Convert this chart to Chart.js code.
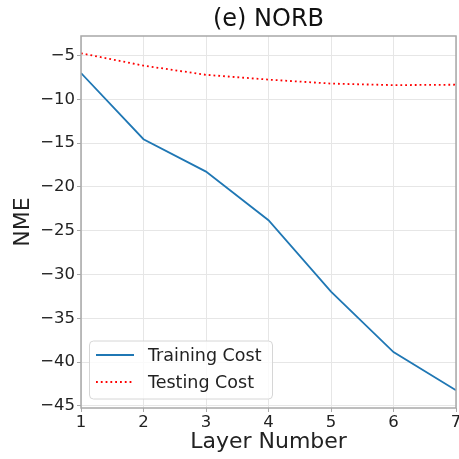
<html>
<head>
<script src="https://cdn.jsdelivr.net/npm/chart.js@4.4.0/dist/chart.umd.min.js"></script>
<style>
body { margin: 0; background: #ffffff; }
#wrap { width: 459px; height: 459px; }
</style>
</head>
<body>
<div id="wrap"><canvas id="lineChart" width="459" height="459"></canvas></div>
<script>
// data
var layers = [1, 2, 3, 4, 5, 6, 7];
var trainingCost = [-7.0, -14.55, -18.25, -23.8, -31.95, -38.85, -43.2];
var testingCost = [-4.74, -6.15, -7.2, -7.75, -8.2, -8.38, -8.33];
var yTicks = [-45, -40, -35, -30, -25, -20, -15, -10, -5];
var xTicks = [1, 2, 3, 4, 5, 6, 7];

var FONT = "'DejaVu Sans', sans-serif";

function pts(ys) {
  var out = [];
  for (var i = 0; i < layers.length; i++) out.push({x: layers[i], y: ys[i]});
  return out;
}
function minus(v) { return String(v).replace('-', '\u2212'); }

// legend box drawn inside the plot, lower left
var boxLegend = {
  id: 'boxLegend',
  afterDatasetsDraw: function(chart) {
    var ctx = chart.ctx;
    var x0 = 89.5, y0 = 341, w = 183, h = 58;
    ctx.save();
    ctx.beginPath();
    ctx.roundRect(x0, y0, w, h, 4);
    ctx.fillStyle = 'rgba(255,255,255,0.8)';
    ctx.fill();
    ctx.strokeStyle = '#d6d6d6';
    ctx.lineWidth = 1;
    ctx.stroke();
    var rows = [355, 382];
    chart.data.datasets.forEach(function(ds, i) {
      ctx.beginPath();
      ctx.setLineDash(ds.borderDash || []);
      ctx.strokeStyle = ds.borderColor;
      ctx.lineWidth = ds.borderWidth;
      ctx.moveTo(96, rows[i]);
      ctx.lineTo(134, rows[i]);
      ctx.stroke();
      ctx.setLineDash([]);
      ctx.fillStyle = '#222222';
      ctx.font = '17.5px ' + FONT;
      ctx.textBaseline = 'middle';
      ctx.fillText(ds.label, 148, rows[i] + 1);
    });
    ctx.restore();
  }
};

// frame on all four sides
var frame = {
  id: 'frame',
  afterDraw: function(chart) {
    var a = chart.chartArea, ctx = chart.ctx;
    ctx.save();
    ctx.strokeStyle = '#a8a8a8';
    ctx.lineWidth = 1.5;
    ctx.strokeRect(a.left, a.top, a.right - a.left, a.bottom - a.top);
    ctx.restore();
  }
};

new Chart(document.getElementById('lineChart'), {
  type: 'line',
  data: {
    datasets: [{
      label: 'Training Cost',
      data: pts(trainingCost),
      borderColor: '#1f77b4',
      borderWidth: 1.8,
      pointRadius: 0,
      tension: 0,
      fill: false
    }, {
      label: 'Testing Cost',
      data: pts(testingCost),
      borderColor: '#ff0000',
      borderWidth: 1.8,
      borderDash: [1.8, 3],
      pointRadius: 0,
      tension: 0,
      fill: false
    }]
  },
  options: {
    responsive: false,
    animation: false,
    layout: {padding: {left: 0, right: 3, top: 0, bottom: 0}},
    plugins: {
      legend: {display: false},
      tooltip: {enabled: false},
      title: {
        display: true,
        text: '(e) NORB',
        fullSize: false,
        color: '#111111',
        font: {family: FONT, size: 24, weight: 'normal'},
        padding: {top: 5, bottom: 2.2}
      }
    },
    scales: {
      x: {
        type: 'linear',
        min: 1,
        max: 7,
        afterBuildTicks: function(s) { s.ticks = xTicks.map(function(v) { return {value: v}; }); },
        afterFit: function(s) { s.height = 51; s.paddingLeft = 0; s.paddingRight = 0; },
        grid: {color: '#e6e6e6', lineWidth: 1, tickLength: 4, tickColor: '#a8a8a8', drawTicks: true},
        border: {display: false},
        ticks: {color: '#222222', font: {family: FONT, size: 16.5}, padding: 1, maxRotation: 0,
          callback: function(v) { return minus(v); }},
        title: {display: true, text: 'Layer Number', color: '#222222',
          font: {family: FONT, size: 22}, padding: {top: 5}}
      },
      y: {
        type: 'linear',
        min: -45.23,
        max: -2.77,
        afterBuildTicks: function(s) { s.ticks = yTicks.map(function(v) { return {value: v}; }); },
        afterFit: function(s) { s.width = 81; s.paddingTop = 0; s.paddingBottom = 0; },
        grid: {color: '#e6e6e6', lineWidth: 1, tickLength: 4, tickColor: '#a8a8a8', drawTicks: true},
        border: {display: false},
        ticks: {color: '#222222', font: {family: FONT, size: 16.5}, padding: 2,
          callback: function(v) { return minus(v); }},
        title: {display: true, text: 'NME', color: '#222222',
          font: {family: FONT, size: 22}, padding: {top: 10}}
      }
    }
  },
  plugins: [boxLegend, frame]
});
</script>
</body>
</html>
